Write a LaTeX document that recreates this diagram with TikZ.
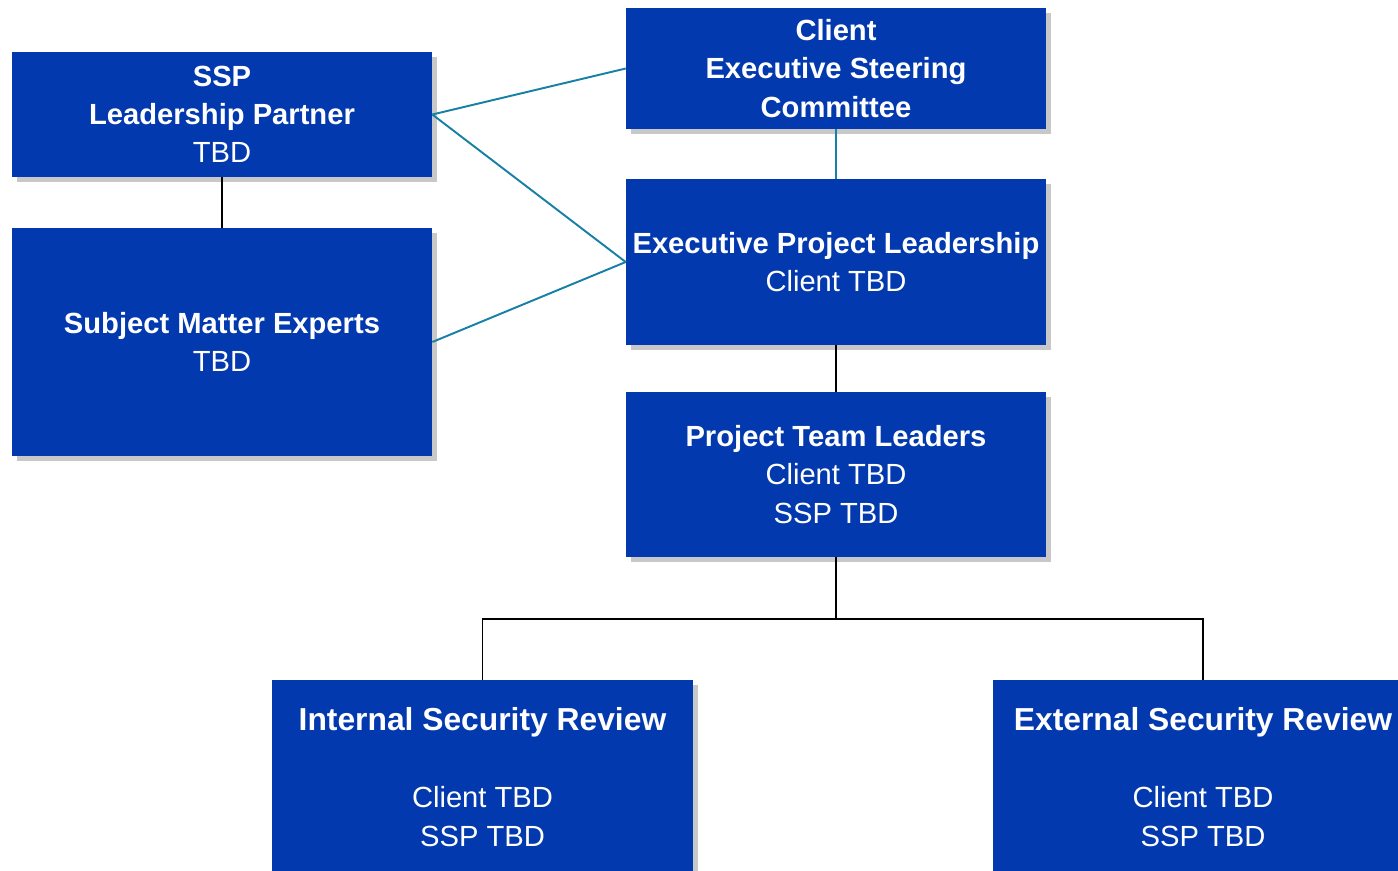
\documentclass[tikz,border=0pt]{standalone}
\usepackage{fontspec}
\setmainfont{Liberation Sans}
\usepackage{tikz}
\usetikzlibrary{shapes,arrows,positioning,fit,calc,shadows}

\definecolor{orgblue}{RGB}{3,57,174}
\definecolor{orgteal}{RGB}{22,128,165}
\definecolor{orgshade}{RGB}{200,200,200}

\begin{document}
\begin{tikzpicture}[x=0.02cm, y=-0.02cm,
    orgbox/.style={rectangle, fill=orgblue, text=white, align=center, inner sep=0pt,
        minimum width=8.4cm, font=\fontsize{16.6}{21.8}\selectfont,
        drop shadow={shadow xshift=0.1cm, shadow yshift=-0.1cm, fill=orgshade, opacity=1}},
    tealline/.style={draw=orgteal, line width=1.1pt},
    blackline/.style={draw=black, line width=1.1pt}]
\useasboundingbox (0,0) rectangle (1398,870);

\node[orgbox, minimum height=2.5cm] (ssp) at (222,114.5)
    {\textbf{SSP}\\ \textbf{Leadership Partner}\\ TBD};
\node[orgbox, minimum height=4.56cm] (sme) at (222,342)
    {\textbf{Subject Matter Experts}\\ TBD};
\node[orgbox, minimum height=2.42cm] (esc) at (836,68.5)
    {\textbf{Client}\\ \textbf{Executive Steering}\\ \textbf{Committee}};
\node[orgbox, minimum height=3.32cm] (epl) at (836,262)
    {\textbf{Executive Project Leadership}\\ Client TBD};
\node[orgbox, minimum height=3.3cm] (ptl) at (836,474.5)
    {\textbf{Project Team Leaders}\\ Client TBD\\ SSP TBD};
\node[orgbox, minimum width=8.42cm, minimum height=3.88cm] (isr) at (482.5,777)
    {{\fontsize{18.1}{21.8}\selectfont\textbf{Internal Security Review}}\\[22pt] Client TBD\\ SSP TBD};
\node[orgbox, minimum width=8.42cm, minimum height=3.88cm] (esr) at (1203,777)
    {{\fontsize{18.1}{21.8}\selectfont\textbf{External Security Review}}\\[22pt] Client TBD\\ SSP TBD};

% links to the client side
\draw[tealline] (ssp.east) -- (esc.west);
\draw[tealline] (ssp.east) -- (epl.west);
\draw[tealline] (sme.east) -- (epl.west);
\draw[tealline] (esc.south) -- (epl.north);

% reporting lines
\coordinate (split) at (836,619);
\draw[blackline] (ssp.south) -- (sme.north);
\draw[blackline] (epl.south) -- (ptl.north);
\draw[blackline] (ptl.south) -- (split);
\draw[blackline] (isr.north) |- (split) -| (esr.north);
\end{tikzpicture}
\end{document}
